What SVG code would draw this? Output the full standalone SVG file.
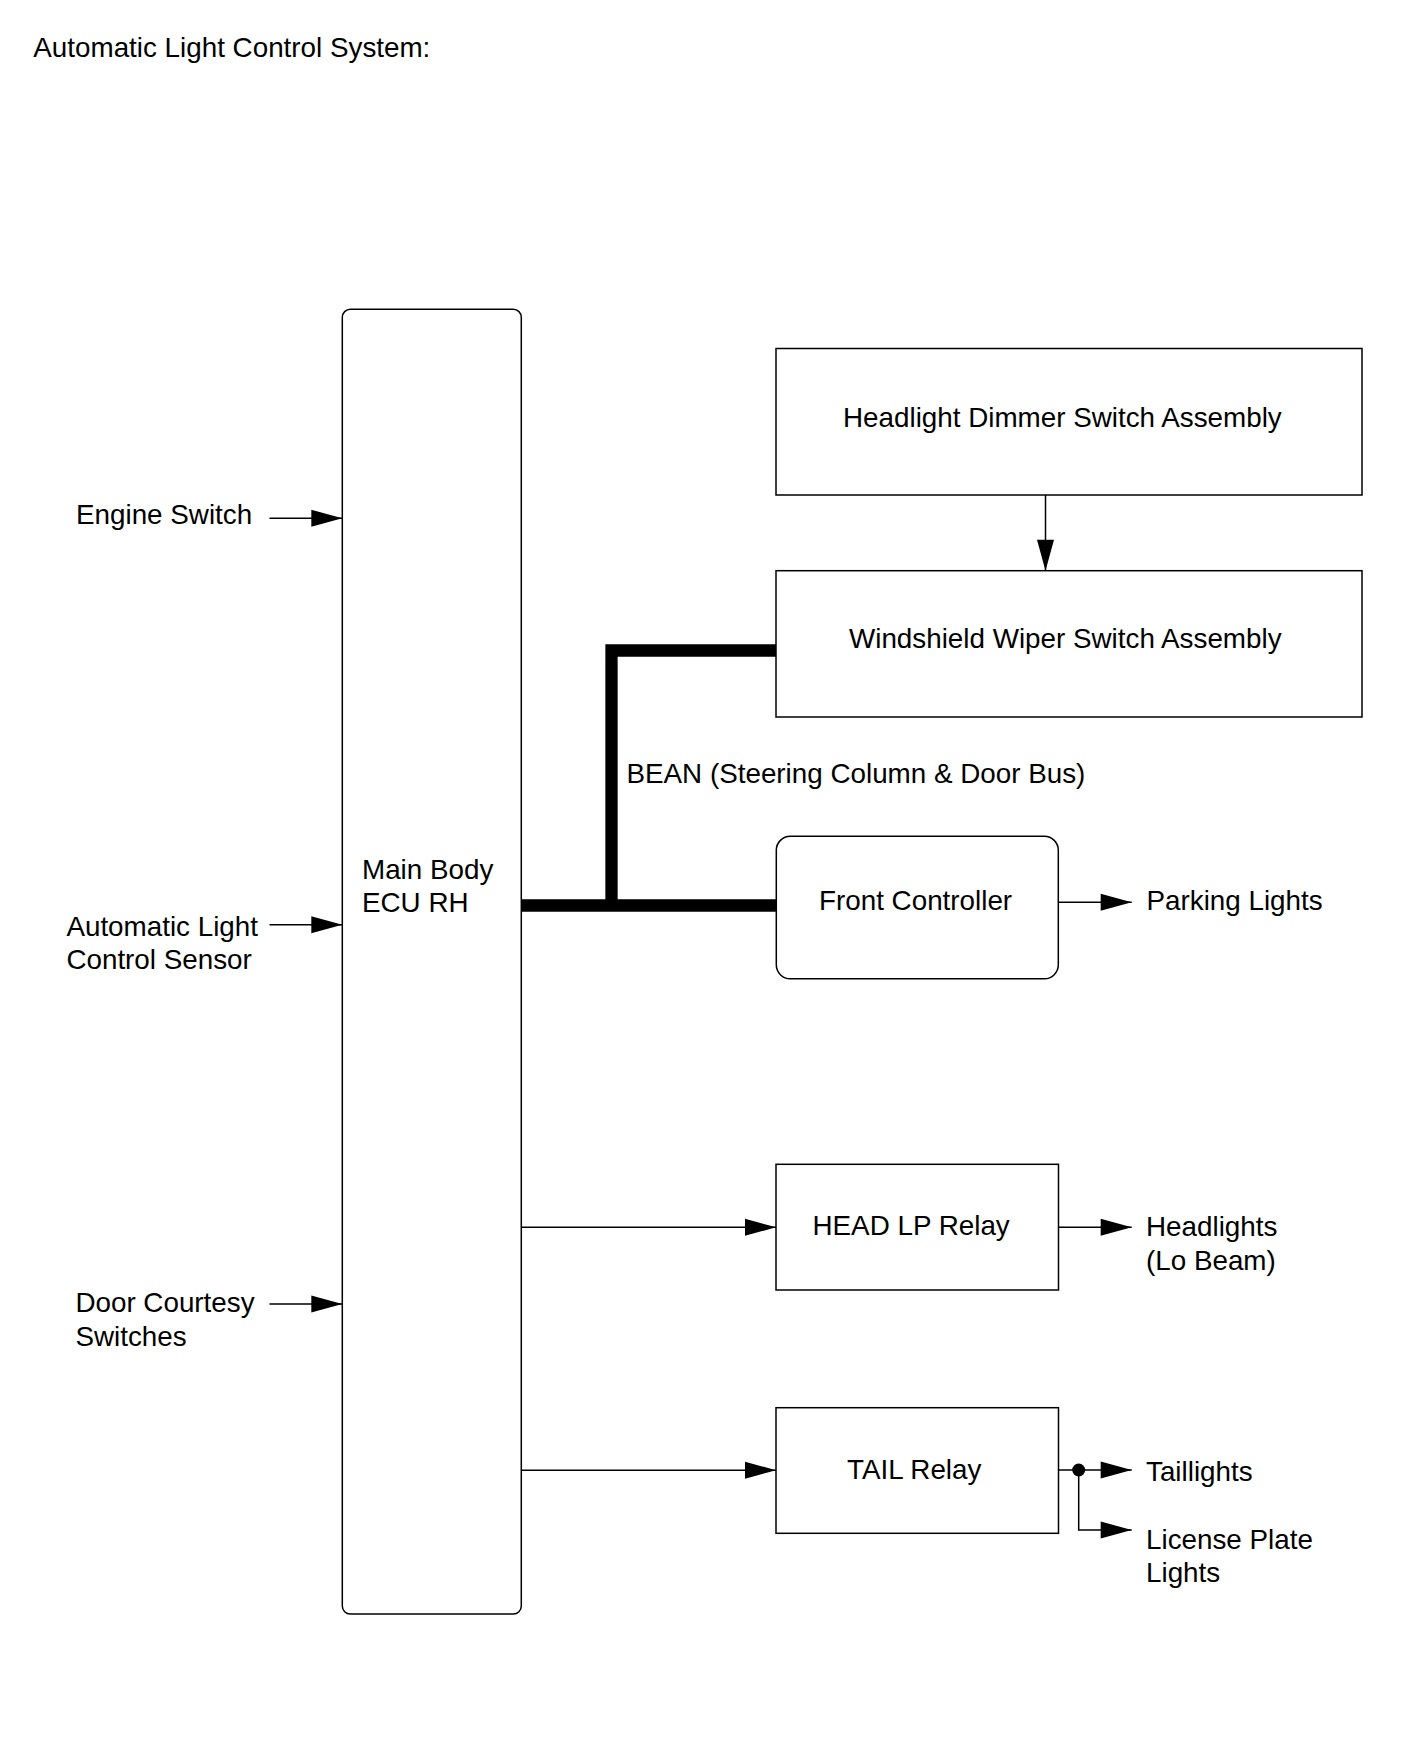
<svg xmlns="http://www.w3.org/2000/svg" width="1424" height="1763" viewBox="0 0 1424 1763">
<defs>
<style>
text{font-family:"Liberation Sans",Arial,sans-serif;font-size:27.8px;fill:#000}
.box{fill:#fff;stroke:#000;stroke-width:1.5}
.wire{fill:none;stroke:#000;stroke-width:1.5}
.bus{fill:none;stroke:#000;stroke-width:12.3;stroke-linejoin:miter;stroke-linecap:butt}
</style>
<marker id="ah" markerUnits="userSpaceOnUse" markerWidth="31" markerHeight="17" refX="31" refY="8.5" orient="auto" overflow="visible">
<path d="M0,0 L31,8.5 L0,17 z" fill="#000"/>
</marker>
</defs>
<rect width="1424" height="1763" fill="#fff"/>
<text x="33.3" y="56.7">Automatic Light Control System:</text>

<g id="connectors">
<path class="bus" d="M776,650.5 H611.5 V905.5"/>
<path class="bus" d="M521.3,905.5 H776"/>
<path class="wire" d="M269.5,518.3 H342.3" marker-end="url(#ah)"/>
<path class="wire" d="M269.5,924.7 H342.3" marker-end="url(#ah)"/>
<path class="wire" d="M269.5,1304 H342.3" marker-end="url(#ah)"/>
<path class="wire" d="M1045.5,495 V570.7" marker-end="url(#ah)"/>
<path class="wire" d="M1058.3,902.3 H1131.7" marker-end="url(#ah)"/>
<path class="wire" d="M521.3,1227.3 H776" marker-end="url(#ah)"/>
<path class="wire" d="M1058.5,1227.3 H1131.7" marker-end="url(#ah)"/>
<path class="wire" d="M521.3,1470.2 H776" marker-end="url(#ah)"/>
<path class="wire" d="M1058.5,1470 H1131.7" marker-end="url(#ah)"/>
<path class="wire" d="M1078.7,1470 V1530 H1131.7" marker-end="url(#ah)"/>
<circle cx="1078.7" cy="1470" r="6.5" fill="#000"/>
</g>

<g id="engine-switch"><text x="76" y="524">Engine Switch</text></g>
<g id="auto-light-sensor"><text x="66.4" y="935.5">Automatic Light</text><text x="66.4" y="968.5">Control Sensor</text></g>
<g id="door-courtesy"><text x="75.4" y="1312">Door Courtesy</text><text x="75.4" y="1345.5">Switches</text></g>

<g id="main-body-ecu">
<rect class="box" x="342.3" y="309.3" width="179" height="1304.7" rx="8" ry="8"/>
<text x="362" y="878.6">Main Body</text><text x="362" y="911.5">ECU RH</text>
</g>

<g id="headlight-dimmer">
<rect class="box" x="776" y="348.5" width="586" height="146.5"/>
<text x="843" y="427">Headlight Dimmer Switch Assembly</text>
</g>

<g id="windshield-wiper">
<rect class="box" x="776" y="570.7" width="586" height="146.3"/>
<text x="849" y="648.3">Windshield Wiper Switch Assembly</text>
</g>

<g id="bean-label"><text x="626.5" y="782.8">BEAN (Steering Column &amp; Door Bus)</text></g>

<g id="front-controller">
<rect class="box" x="776.3" y="836.3" width="282" height="142.5" rx="14" ry="14"/>
<text x="819" y="910">Front Controller</text>
</g>
<g id="parking-lights"><text x="1146.5" y="910">Parking Lights</text></g>

<g id="head-lp-relay">
<rect class="box" x="776" y="1164.3" width="282.5" height="125.7"/>
<text x="812.5" y="1235">HEAD LP Relay</text>
</g>
<g id="headlights"><text x="1146" y="1235.5">Headlights</text><text x="1146" y="1269.5">(Lo Beam)</text></g>

<g id="tail-relay">
<rect class="box" x="776" y="1407.7" width="282.5" height="125.6"/>
<text x="847" y="1478.5">TAIL Relay</text>
</g>
<g id="taillights"><text x="1146" y="1480.5">Taillights</text></g>
<g id="license-plate-lights"><text x="1146" y="1548.5">License Plate</text><text x="1146" y="1581.5">Lights</text></g>
</svg>
